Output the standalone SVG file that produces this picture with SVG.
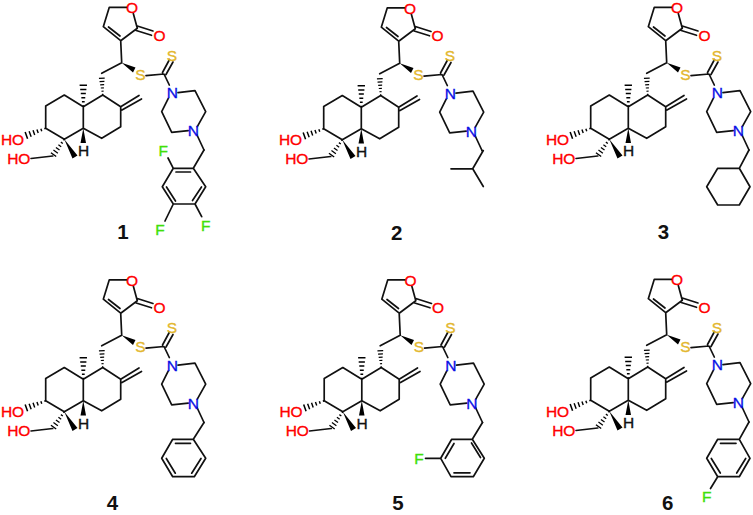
<svg xmlns="http://www.w3.org/2000/svg" xmlns:xlink="http://www.w3.org/1999/xlink" width="753" height="515" viewBox="0 0 753 515">
<style>
.b{fill:none;stroke:#111;stroke-width:1.7;stroke-linecap:round;stroke-linejoin:round}
.w{fill:#000}
text{font-family:"Liberation Sans",Arial,sans-serif;font-size:15.5px;text-anchor:middle;stroke-width:.35}
.O{fill:#f00;stroke:#f00}.S{fill:#e3b72e;stroke:#e3b72e}.N{fill:#0a10e6;stroke:#0a10e6}.F{fill:#3fe008;stroke:#3fe008}.H{fill:#111;stroke:#111}
.num{font-size:20.5px;font-weight:bold;fill:#111}
</style>
<defs>
<path id="hash" class="w" d="M-.7 0h1.4v1.3h-1.4zM-1.2 3.600h2.400v1.300h-2.400zM-1.700 7.200h3.400v1.300h-3.400zM-2.200 10.800h4.400v1.300h-4.400zM-2.700 14.400h5.400v1.300h-5.400zM-3.200 18h6.400v1.400h-6.400z"/>
<g id="core">
<path class="b" d="M126.500 7.300H109.300L103.300 26.700L120.700 40.700L137.300 28.300L133.300 13.500M108.500 27L120 36M137.300 26L153 31M136.200 30.500L151.500 35.300M120.700 40.700L121.700 62.700L101.700 73.300M83.300 106.700L64.300 95L45.700 106V128.300L64.300 139.300L83.300 128.300V106.700L102.700 95L120.700 106.700V126.700L101.700 138.300L83.300 128.300M120.700 106.700L139 95.500M122 110L141.500 99M52.700 156L31 158.500M146 75.700L164 74L169.300 85M162.500 72.500L169.500 59.500M166 74.500L173 62M178 92.700L195 90.700L205.700 111.700L197.300 126.700M188.300 130.700L171.700 132.300L161.700 111.700L168.300 98.300M197 135L204 150"/>
<path class="w" d="M121.700 62.700L135.500 67.500L133 72.500ZM83.300 128.300L80.500 143L86 143ZM64.300 139.300L77.500 155.500L72.500 158.500Z"/>
<use xlink:href="#hash" href="#hash" transform="translate(102.700 95) rotate(177) scale(.9)"/>
<use xlink:href="#hash" href="#hash" transform="translate(83.300 106.700) rotate(180) scale(1.15)"/>
<use xlink:href="#hash" href="#hash" transform="translate(45.700 128.300) rotate(70) scale(1.1)"/>
<use xlink:href="#hash" href="#hash" transform="translate(64.300 139.300) rotate(35) scale(1)"/>
</g>
</defs>
<g id="compound-1">
<g transform="translate(0 0)">
<use xlink:href="#core" href="#core"/>
<text class="O" x="132" y="13">O</text><text class="O" x="159.500" y="40.500">O</text><text class="S" x="140.300" y="79.800">S</text><text class="S" x="172" y="60.500">S</text><text class="N" x="172.300" y="98.200">N</text><text class="N" x="193.300" y="136.200">N</text><text class="O" x="12.500" y="144.800">HO</text><text class="O" x="18.800" y="163.800">HO</text><text class="H" x="83.500" y="156">H</text>
<path class="b" d="M204 150L193.300 168.300H173.300L162.300 186.700L173.300 204H195L205.700 186.700L193.300 168.300M176 172H190.500M166.500 187L175.500 201M192.500 200.500L201.500 187M173.300 168.300L168 158M173.300 204L165 221M195 204L201.700 216.700"/>
<text class="F" x="163.300" y="155.500">F</text><text class="F" x="160" y="234.500">F</text><text class="F" x="205.700" y="230.500">F</text>
</g>
<text class="num" x="123" y="238.500">1</text>
</g>
<g id="compound-2">
<g transform="translate(278 .5)">
<use xlink:href="#core" href="#core"/>
<text class="O" x="132" y="13">O</text><text class="O" x="159.500" y="40.500">O</text><text class="S" x="140.300" y="79.800">S</text><text class="S" x="172" y="60.500">S</text><text class="N" x="172.300" y="98.200">N</text><text class="N" x="193.300" y="136.200">N</text><text class="O" x="12.500" y="144.800">HO</text><text class="O" x="18.800" y="163.800">HO</text><text class="H" x="83.500" y="156">H</text>
<path class="b" d="M204 150L205.300 150L194.700 168.300L173 168.300M194.700 168.300L205.300 186"/>
</g>
<text class="num" x="396.700" y="240">2</text>
</g>
<g id="compound-3">
<g transform="translate(545 0)">
<use xlink:href="#core" href="#core"/>
<text class="O" x="132" y="13">O</text><text class="O" x="159.500" y="40.500">O</text><text class="S" x="140.300" y="79.800">S</text><text class="S" x="172" y="60.500">S</text><text class="N" x="172.300" y="98.200">N</text><text class="N" x="193.300" y="136.200">N</text><text class="O" x="12.500" y="144.800">HO</text><text class="O" x="18.800" y="163.800">HO</text><text class="H" x="83.500" y="156">H</text>
<path class="b" d="M204 150L194.300 168.300H172.700L161.700 186.700L172.700 205H194.300L205 186.700L194.300 168.300"/>
</g>
<text class="num" x="663.500" y="238.500">3</text>
</g>
<g id="compound-4">
<g transform="translate(0 272.500)">
<use xlink:href="#core" href="#core"/>
<text class="O" x="132" y="13">O</text><text class="O" x="159.500" y="40.500">O</text><text class="S" x="140.300" y="79.800">S</text><text class="S" x="172" y="60.500">S</text><text class="N" x="172.300" y="98.200">N</text><text class="N" x="193.300" y="136.200">N</text><text class="O" x="12.500" y="144.800">HO</text><text class="O" x="18.800" y="163.800">HO</text><text class="H" x="83.500" y="156">H</text>
<path class="b" d="M204 150L193.300 166.800H172.700L161.700 185.800L172.700 204.200H194.300L205.700 185.800L193.300 166.800M175.500 170.800H190.500M166.300 186L175.300 200.700M191.700 200.700L201 186"/>
</g>
<text class="num" x="112.500" y="510">4</text>
</g>
<g id="compound-5">
<g transform="translate(278.500 272.500)">
<use xlink:href="#core" href="#core"/>
<text class="O" x="132" y="13">O</text><text class="O" x="159.500" y="40.500">O</text><text class="S" x="140.300" y="79.800">S</text><text class="S" x="172" y="60.500">S</text><text class="N" x="172.300" y="98.200">N</text><text class="N" x="193.300" y="136.200">N</text><text class="O" x="12.500" y="144.800">HO</text><text class="O" x="18.800" y="163.800">HO</text><text class="H" x="83.500" y="156">H</text>
<path class="b" d="M204 150L193.800 166.800H173.200L162.200 185.800L172.500 204.200H194.800L205.800 185.800L193.800 166.800M175.500 171L166.800 185.800M175.500 200.300H191.500M202 185L193 170.500M162.200 185.800H147"/>
<text class="F" x="140.500" y="191.300">F</text>
</g>
<text class="num" x="398" y="510">5</text>
</g>
<g id="compound-6">
<g transform="translate(545 272)">
<use xlink:href="#core" href="#core"/>
<text class="O" x="132" y="13">O</text><text class="O" x="159.500" y="40.500">O</text><text class="S" x="140.300" y="79.800">S</text><text class="S" x="172" y="60.500">S</text><text class="N" x="172.300" y="98.200">N</text><text class="N" x="193.300" y="136.200">N</text><text class="O" x="12.500" y="144.800">HO</text><text class="O" x="18.800" y="163.800">HO</text><text class="H" x="83.500" y="156">H</text>
<path class="b" d="M204 150L194.300 167.300H172.700L161.700 186.300L172.700 204.700H194.300L205 186.300L194.300 167.300M175.500 171.300H191M166.300 186.500L175.300 201M191.700 201L200.700 186.500M172.700 204.700L165.500 216.500"/>
<text class="F" x="161.700" y="229.500">F</text>
</g>
<text class="num" x="667.700" y="510">6</text>
</g>
</svg>
